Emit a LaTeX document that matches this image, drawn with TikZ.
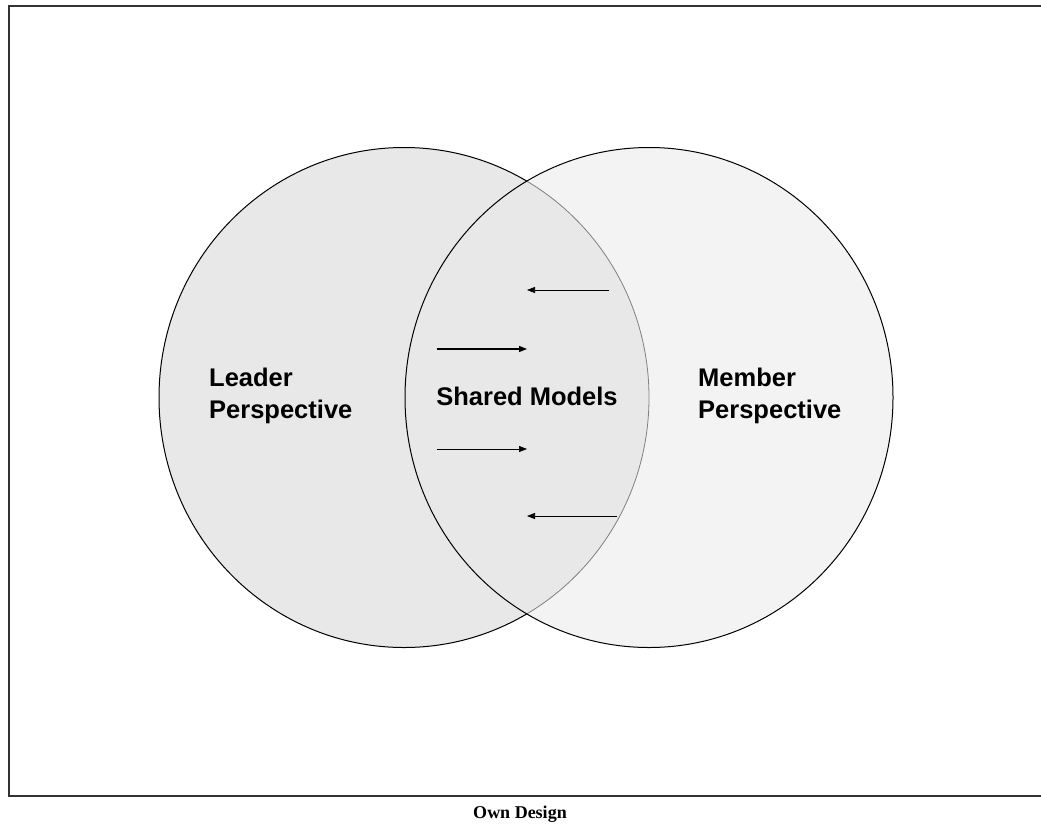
\documentclass[tikz,border=0pt]{standalone}
\usepackage{fontspec}
\setmainfont{Liberation Serif}
\setsansfont{Liberation Sans}
\usetikzlibrary{arrows.meta}
\definecolor{leftfill}{HTML}{E8E8E8}
\definecolor{rightfill}{HTML}{F3F3F3}
\definecolor{framecol}{HTML}{333333}
\begin{document}
\begin{tikzpicture}[x=1pt,y=-1pt,
  label/.style={font=\sffamily\bfseries\fontsize{25.5}{32}\selectfont, text=black, inner sep=0pt},
  flow/.style={-{Triangle[length=8pt,width=6pt]}, line width=0.7pt, black},
  flowthick/.style={flow, line width=1.2pt}]
  \useasboundingbox (0,0) rectangle (1041,825);
  % outer frame, open on the right
  \draw[framecol, line width=2pt] (1045,5.5) -- (8.5,5.5) -- (8.5,795.5) -- (1045,795.5);
  % the two perspectives
  \def\lcircle{(404,397.5) ellipse [x radius=245, y radius=250]}
  \def\rcircle{(649,397.5) ellipse [x radius=244, y radius=250]}
  \fill[leftfill] \lcircle;
  \fill[rightfill] \rcircle;
  % overlap keeps the left shade, with a grey rim
  \begin{scope}
    \clip \rcircle;
    \fill[leftfill] \lcircle;
    \draw[gray, line width=0.8pt] \lcircle;
  \end{scope}
  % black rim of the left circle outside the overlap
  \begin{scope}[even odd rule]
    \clip (0,0) rectangle (1041,825) \rcircle;
    \draw[black, line width=1pt] \lcircle;
  \end{scope}
  \draw[black, line width=1pt] \rcircle;
  % labels
  \node[label, align=left, anchor=west] (leader) at (209,396) {Leader\\Perspective};
  \node[label, align=left, anchor=west] (member) at (698,396) {Member\\Perspective};
  \node[label] (shared) at (527,396) {Shared Models};
  % exchange arrows
  \coordinate (a1s) at (609,290); \coordinate (a1e) at (527,290);
  \coordinate (a2s) at (437,349); \coordinate (a2e) at (527,349);
  \coordinate (a3s) at (437,449); \coordinate (a3e) at (527,449);
  \coordinate (a4s) at (617,516); \coordinate (a4e) at (527,516);
  \draw[flow] (a1s) -- (a1e);
  \draw[flowthick] (a2s) -- (a2e);
  \draw[flow] (a3s) -- (a3e);
  \draw[flow] (a4s) -- (a4e);
  % caption
  \node[font=\rmfamily\bfseries\fontsize{18}{20}\selectfont, inner sep=0pt, anchor=base] (caption) at (520,818) {Own Design};
\end{tikzpicture}
\end{document}
